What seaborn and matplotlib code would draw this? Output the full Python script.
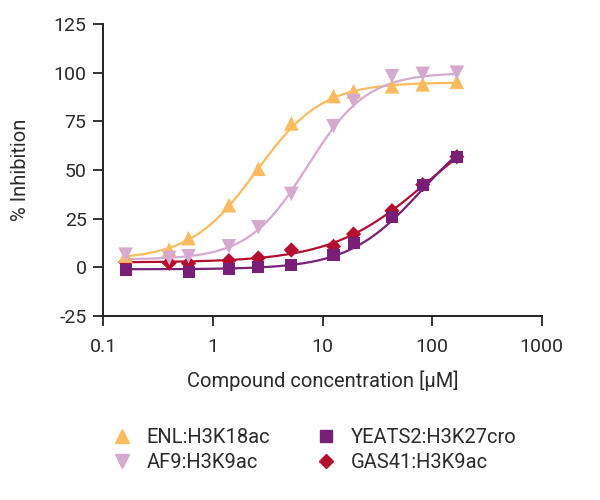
import numpy as np
import pandas as pd
import seaborn as sns
import matplotlib.pyplot as plt
from matplotlib.lines import Line2D

# concentrations [uM]
conc = [0.16, 0.4, 0.6, 1.4, 2.6, 5.2, 12.6, 19.2, 43, 82, 168]

# % inhibition
enl = [6.0, 9.1, 15.0, 31.9, 50.6, 73.9, 88.0, 90.5, 93.0, 94.0, 95.3]
af9 = [6.5, 4.8, 5.7, 10.8, 20.6, 37.7, 72.5, 85.4, 98.2, 99.4, 100.0]
yeats2 = [-1.2, np.nan, -2.4, -0.9, 0.0, 1.4, 6.2, 12.5, 25.7, 42.5, 56.8]
gas41 = [2.7, 2.2, 2.0, 3.4, 4.8, 8.9, 10.8, 17.1, 29.1, 42.5, 56.8]

# 4PL fit parameters (bottom, top, EC50, hill)
fit_enl = (4, 95, 2.5, 1.45)
fit_af9 = (4, 100, 7.3, 1.6)
fit_yeats2 = (-1, 80, 80, 1.3)
fit_gas41 = (2.5, 85, 90, 1.0)

names = ['ENL:H3K18ac', 'AF9:H3K9ac', 'YEATS2:H3K27cro', 'GAS41:H3K9ac']
colors = ['#FBBB5E', '#D6A9CF', '#7A1F78', '#B50D2E']
markers = ['^', 'v', 's', 'D']
msizes = [110, 110, 75, 60]

series = dict(zip(names, [enl, af9, yeats2, gas41]))
fits = dict(zip(names, [fit_enl, fit_af9, fit_yeats2, fit_gas41]))

df = pd.DataFrame([(n, c, v) for n in names for c, v in zip(conc, series[n])],
                  columns=['target', 'conc', 'inh']).dropna()

xs = np.logspace(np.log10(0.16), np.log10(168), 200)
curves = []
for n in names:
    b, t, ec, h = fits[n]
    ys = b + (t - b) / (1 + (ec / xs) ** h)
    curves.append(pd.DataFrame({'target': n, 'conc': xs, 'inh': ys}))
curve_df = pd.concat(curves)

sns.set_style('ticks')
plt.rcParams['font.family'] = ['Roboto', 'DejaVu Sans']
plt.rcParams['axes.unicode_minus'] = False
txt = '#2b2b2b'

fig = plt.figure(figsize=(6, 5), dpi=100)
ax = fig.add_axes([0.172, 0.368, 0.731, 0.584])

draw_order = ['GAS41:H3K9ac', 'YEATS2:H3K27cro', 'ENL:H3K18ac', 'AF9:H3K9ac']
pal = dict(zip(names, colors))
for n in draw_order:
    sub = curve_df[curve_df.target == n]
    sns.lineplot(data=sub, x='conc', y='inh', color=pal[n], lw=1.6, ax=ax,
                 legend=False, zorder=2)
for n in draw_order:
    i = names.index(n)
    sub = df[df.target == n]
    sns.scatterplot(data=sub, x='conc', y='inh', color=pal[n], marker=markers[i],
                    s=msizes[i], edgecolor='none', ax=ax, legend=False, zorder=3)

ax.set_xscale('log')
ax.set_xlim(0.1, 1000)
ax.set_ylim(-25, 125)
ax.set_yticks(range(-25, 126, 25))
ax.set_xticks([0.1, 1, 10, 100, 1000])
ax.set_xticklabels(['0.1', '1', '10', '100', '1000'])
ax.minorticks_off()
ax.tick_params(axis='both', direction='out', length=7, width=1.3, colors='#222222',
               labelcolor=txt, labelsize=14)
ax.tick_params(axis='x', pad=9)
ax.tick_params(axis='y', pad=5)
for s in ['left', 'bottom']:
    ax.spines[s].set_linewidth(1.4)
    ax.spines[s].set_color('#222222')
sns.despine(ax=ax)
ax.set_xlabel('Compound concentration [µM]', fontsize=14.5, color=txt, labelpad=10)
ax.set_ylabel('% Inhibition', fontsize=14.5, color=txt, labelpad=17)

handles = [Line2D([], [], ls='none', marker=m, color=c, markersize=ms ** 0.5 * 0.95)
           for m, c, ms in zip(markers, colors, msizes)]
leg = fig.legend(handles, names, ncol=2, loc='center', bbox_to_anchor=(0.522, 0.1),
                 frameon=False, fontsize=14.5, handletextpad=0.6, columnspacing=2.2,
                 labelspacing=0.3, handlelength=1.2)
for t in leg.get_texts():
    t.set_color(txt)

fig.savefig('out.png', dpi=100)
